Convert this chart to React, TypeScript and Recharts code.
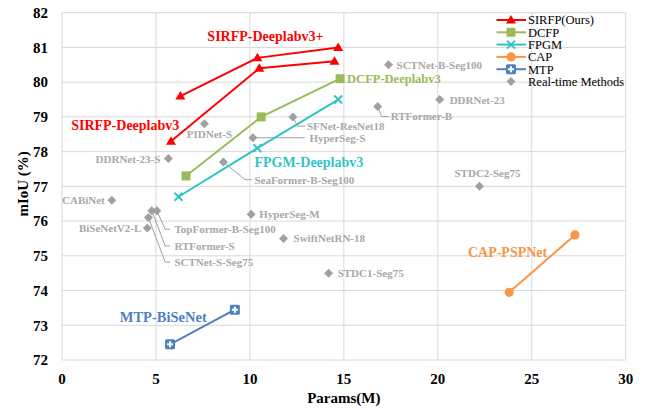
import React from 'react';
import { ScatterChart, Scatter, XAxis, YAxis, CartesianGrid, Legend, Label } from 'recharts';

const FONT = '"Liberation Serif", "Times New Roman", serif';

// ---- data ----
const xTicks = [0, 5, 10, 15, 20, 25, 30];
const yTicks = [72, 73, 74, 75, 76, 77, 78, 79, 80, 81, 82];

const sirfpPlusParams = [6.3, 10.4, 14.7];
const sirfpPlusMiou = [79.6, 80.7, 81.0];
const sirfpParams = [5.8, 10.5, 14.5];
const sirfpMiou = [78.3, 80.4, 80.6];
const dcfpParams = [6.6, 10.6, 14.8];
const dcfpMiou = [77.3, 79.0, 80.1];
const fpgmParams = [6.2, 10.4, 14.7];
const fpgmMiou = [76.7, 78.1, 79.5];
const capParams = [23.8, 27.3];
const capMiou = [73.95, 75.6];
const mtpParams = [5.75, 9.2];
const mtpMiou = [72.45, 73.45];

const rtNames = [
  'DDRNet-23-S', 'PIDNet-S', 'SeaFormer-B-Seg100', 'HyperSeg-S', 'SFNet-ResNet18',
  'RTFormer-B', 'SCTNet-B-Seg100', 'DDRNet-23', 'STDC2-Seg75', 'CABiNet',
  'TopFormer-B-Seg100', 'RTFormer-S', 'SCTNet-S-Seg75', 'BiSeNetV2-L', 'HyperSeg-M',
  'SwiftNetRN-18', 'STDC1-Seg75',
];
const rtParams = [5.66, 7.58, 8.59, 10.16, 12.29, 16.8, 17.38, 20.1, 22.22, 2.65, 5.05, 4.78, 4.6, 4.54, 10.07, 11.79, 14.19];
const rtMiou = [77.8, 78.8, 77.7, 78.4, 79.0, 79.3, 80.5, 79.5, 77.0, 76.6, 76.3, 76.3, 76.1, 75.8, 76.2, 75.5, 74.5];

const legendNames = ['SIRFP(Ours)', 'DCFP', 'FPGM', 'CAP', 'MTP', 'Real-time Methods'];
const groupLabels = ['SIRFP-Deeplabv3+', 'SIRFP-Deeplabv3', 'DCFP-Deeplabv3', 'FPGM-Deeplabv3', 'CAP-PSPNet', 'MTP-BiSeNet'];

const zip = (xs: number[], ys: number[]) => xs.map((x, i) => ({ x, y: ys[i], i }));
const rtData = rtNames.map((name, i) => ({ name, x: rtParams[i], y: rtMiou[i], i }));

// ---- styles ----
const RED = '#FF0000';
const GREEN = '#9BBB59';
const CYAN = '#31C4C7';
const ORANGE = '#F79646';
const BLUE = '#4F81BD';
const GRAY_MARK = '#A0A0A0';
const GRAY_TEXT = '#A8A8A8';

type Kind = 'triangle' | 'square' | 'x' | 'circle' | 'plus' | 'diamond';

function drawMarker(kind: Kind, color: string, cx: number, cy: number) {
  switch (kind) {
    case 'triangle':
      return <path d={`M${cx},${cy - 5}L${cx + 5},${cy + 3.5}L${cx - 5},${cy + 3.5}Z`} fill={color} />;
    case 'square':
      return <rect x={cx - 4.5} y={cy - 4.5} width={9} height={9} fill={color} />;
    case 'x':
      return <path d={`M${cx - 4},${cy - 4}L${cx + 4},${cy + 4}M${cx - 4},${cy + 4}L${cx + 4},${cy - 4}`} stroke={color} strokeWidth={2} />;
    case 'circle':
      return <circle cx={cx} cy={cy} r={4.6} fill={color} />;
    case 'plus':
      return (
        <g>
          <rect x={cx - 5} y={cy - 5} width={10} height={10} rx={1.5} fill={color} />
          <path d={`M${cx - 3},${cy}H${cx + 3}M${cx},${cy - 3}V${cy + 3}`} stroke="#fff" strokeWidth={2} />
        </g>
      );
    case 'diamond':
    default:
      return <path d={`M${cx},${cy - 4.5}L${cx + 4.5},${cy}L${cx},${cy + 4.5}L${cx - 4.5},${cy}Z`} fill={color} />;
  }
}

type GL = { text: string; i: number; dx: number; dy: number; anchor: 'start' | 'middle' | 'end'; size: number };

const makeSeriesShape = (kind: Kind, color: string, gl: GL) => (props: any) => {
  const { cx, cy, payload } = props;
  if (cx == null || cy == null) return <g />;
  return (
    <g>
      {drawMarker(kind, color, cx, cy)}
      {payload && payload.i === gl.i ? (
        <text x={cx + gl.dx} y={cy + gl.dy} textAnchor={gl.anchor} fill={color}
          fontFamily={FONT} fontWeight="bold" fontSize={gl.size}>{gl.text}</text>
      ) : null}
    </g>
  );
};

// label placement for real-time methods (pixel offsets from the marker)
type RL = { dx: number; dy: number; anchor?: 'start' | 'middle' | 'end'; leader?: [number, number][] };
const rtLayout: Record<string, RL> = {
  'DDRNet-23-S': { dx: -8, dy: 4, anchor: 'end' },
  'PIDNet-S': { dx: 5, dy: 14, anchor: 'middle' },
  'SeaFormer-B-Seg100': { dx: 31, dy: 21.5, leader: [[0, 0], [21.7, 17.6], [28.4, 17.6]] },
  'HyperSeg-S': { dx: 56.5, dy: 4.5, leader: [[0, 0], [52, 0]] },
  'SFNet-ResNet18': { dx: 14, dy: 13.5, leader: [[0, 0], [4.6, 9.3], [12.3, 9.3]] },
  'RTFormer-B': { dx: 13, dy: 14, leader: [[0, 0], [4, 10], [11, 10]] },
  'SCTNet-B-Seg100': { dx: 8, dy: 4.5 },
  'DDRNet-23': { dx: 10, dy: 4 },
  'STDC2-Seg75': { dx: 8, dy: -9, anchor: 'middle' },
  'CABiNet': { dx: -7, dy: 4, anchor: 'end' },
  'TopFormer-B-Seg100': { dx: 17.6, dy: 22.6, leader: [[0, 0], [8.3, 18.6], [13.3, 18.6]] },
  'RTFormer-S': { dx: 22.6, dy: 39.3, leader: [[0, 0], [13.3, 35.3], [18.3, 35.3]] },
  'SCTNet-S-Seg75': { dx: 26, dy: 48.4, leader: [[0, 0], [16.7, 44.4], [21.7, 44.4]] },
  'BiSeNetV2-L': { dx: -6, dy: 4, anchor: 'end' },
  'HyperSeg-M': { dx: 8, dy: 4 },
  'SwiftNetRN-18': { dx: 10, dy: 4 },
  'STDC1-Seg75': { dx: 9, dy: 4 },
};

const RtShape = (props: any) => {
  const { cx, cy, payload } = props;
  if (cx == null || cy == null) return <g />;
  const l = rtLayout[payload?.name] || { dx: 8, dy: 4 };
  return (
    <g>
      {l.leader ? (
        <polyline points={l.leader.map(([a, b]) => `${cx + a},${cy + b}`).join(' ')}
          fill="none" stroke={GRAY_MARK} strokeWidth={1} />
      ) : null}
      {drawMarker('diamond', GRAY_MARK, cx, cy)}
      <text x={cx + l.dx} y={cy + l.dy} textAnchor={l.anchor || 'start'} fill={GRAY_TEXT}
        fontFamily={FONT} fontWeight="bold" fontSize={11}>{payload?.name}</text>
    </g>
  );
};

const legendStyle: { color: string; kind: Kind; line: boolean }[] = [
  { color: RED, kind: 'triangle', line: true },
  { color: GREEN, kind: 'square', line: true },
  { color: CYAN, kind: 'x', line: true },
  { color: ORANGE, kind: 'circle', line: true },
  { color: BLUE, kind: 'plus', line: true },
  { color: GRAY_MARK, kind: 'diamond', line: false },
];

const LegendContent = () => (
  <svg width={140} height={84} style={{ display: 'block', overflow: 'visible' }}>
    {legendNames.map((name, k) => {
      const st = legendStyle[k];
      const y = 10 + k * 12.3;
      return (
        <g key={name}>
          {st.line ? <line x1={2.5} x2={32} y1={y} y2={y} stroke={st.color} strokeWidth={2} /> : null}
          {drawMarker(st.kind, st.color, 17, y)}
          <text x={34} y={y + 4.3} fontFamily={FONT} fontSize={12.5} fill="#000">{name}</text>
        </g>
      );
    })}
  </svg>
);

const YLabel = (props: any) => {
  const vb = props.viewBox || { x: 0, y: 0, width: 62, height: 348 };
  const x = vb.x + 28.5;
  const y = vb.y + vb.height / 2 - 2.5;
  return (
    <text x={x} y={y} transform={`rotate(-90, ${x}, ${y})`} textAnchor="middle"
      fontFamily={FONT} fontWeight="bold" fontSize={15} fill="#000">mIoU (%)</text>
  );
};

const XLabel = (props: any) => {
  const vb = props.viewBox || { x: 62, y: 360, width: 564, height: 50 };
  return (
    <text x={vb.x + vb.width / 2} y={vb.y + 43} textAnchor="middle"
      fontFamily={FONT} fontWeight="bold" fontSize={15} fill="#000">Params(M)</text>
  );
};

const tickStyle = { fontFamily: FONT, fontSize: 15, fontWeight: 'bold', fill: '#000' } as any;

export default function App() {
  return (
    <div style={{ position: 'absolute', left: 0, top: 0, width: 649, height: 410, background: '#fff' }}>
      <ScatterChart width={649} height={410} margin={{ top: 12.7, right: 23.3, bottom: 0, left: 0 }}>
        <CartesianGrid stroke="#D9D9D9" strokeWidth={1} />
        <XAxis dataKey="x" type="number" domain={[0, 30]} ticks={xTicks} interval={0}
          tickLine={false} axisLine={false} tickSize={0} tickMargin={13} height={50}
          tick={tickStyle} allowDataOverflow>
          <Label content={XLabel} />
        </XAxis>
        <YAxis dataKey="y" type="number" domain={[72, 82]} ticks={yTicks} interval={0}
          tickLine={false} axisLine={false} tickSize={0} tickMargin={14} width={62}
          tick={tickStyle} allowDataOverflow>
          <Label content={YLabel} />
        </YAxis>
        <Legend layout="vertical" align="center" verticalAlign="middle" content={LegendContent}
          wrapperStyle={{ left: 494, top: 10, width: 140, height: 84 }} />
        <Scatter name="Real-time Methods" data={rtData} shape={RtShape} isAnimationActive={false} />
        <Scatter name="SIRFP+" data={zip(sirfpPlusParams, sirfpPlusMiou)} line={{ stroke: RED, strokeWidth: 2 }} lineType="joint"
          shape={makeSeriesShape('triangle', RED, { text: groupLabels[0], i: 1, dx: 8, dy: -17, anchor: 'middle', size: 14 })}
          isAnimationActive={false} />
        <Scatter name="SIRFP" data={zip(sirfpParams, sirfpMiou)} line={{ stroke: RED, strokeWidth: 2 }} lineType="joint"
          shape={makeSeriesShape('triangle', RED, { text: groupLabels[1], i: 0, dx: 8.3, dy: -11.5, anchor: 'end', size: 14 })}
          isAnimationActive={false} />
        <Scatter name="DCFP" data={zip(dcfpParams, dcfpMiou)} line={{ stroke: GREEN, strokeWidth: 2 }} lineType="joint"
          shape={makeSeriesShape('square', GREEN, { text: groupLabels[2], i: 2, dx: 7, dy: 4.5, anchor: 'start', size: 12.5 })}
          isAnimationActive={false} />
        <Scatter name="FPGM" data={zip(fpgmParams, fpgmMiou)} line={{ stroke: CYAN, strokeWidth: 2 }} lineType="joint"
          shape={makeSeriesShape('x', CYAN, { text: groupLabels[3], i: 1, dx: -3, dy: 19, anchor: 'start', size: 14 })}
          isAnimationActive={false} />
        <Scatter name="CAP" data={zip(capParams, capMiou)} line={{ stroke: ORANGE, strokeWidth: 2 }} lineType="joint"
          shape={makeSeriesShape('circle', ORANGE, { text: groupLabels[4], i: 0, dx: -1.6, dy: -35, anchor: 'middle', size: 14 })}
          isAnimationActive={false} />
        <Scatter name="MTP" data={zip(mtpParams, mtpMiou)} line={{ stroke: BLUE, strokeWidth: 2 }} lineType="joint"
          shape={makeSeriesShape('plus', BLUE, { text: groupLabels[5], i: 0, dx: 36.7, dy: -22, anchor: 'end', size: 14.5 })}
          isAnimationActive={false} />
      </ScatterChart>
    </div>
  );
}
